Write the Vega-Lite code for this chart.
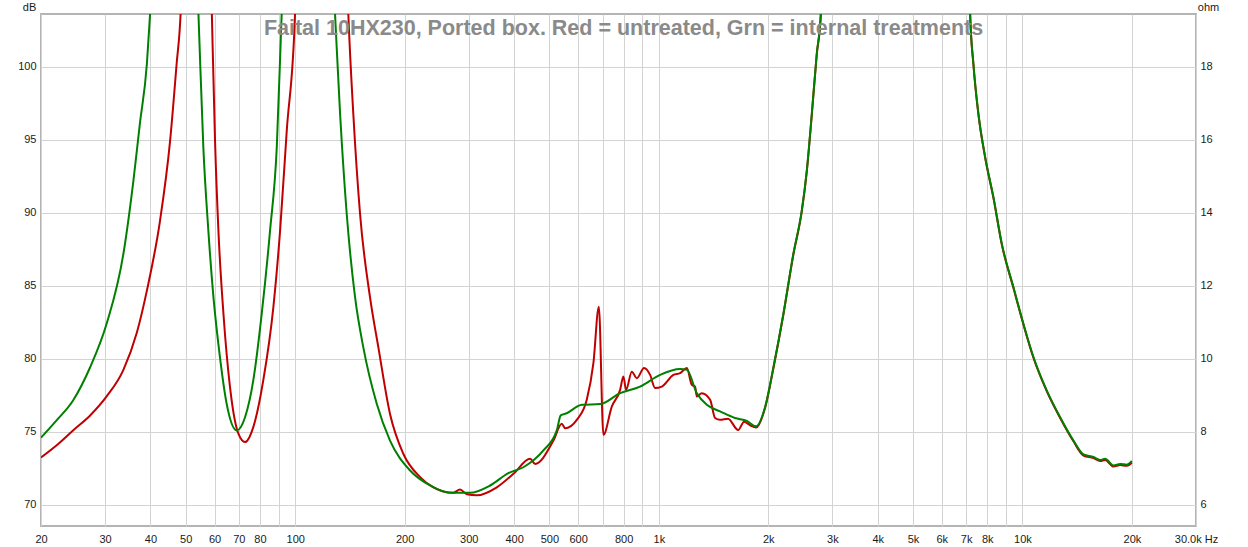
{
  "$schema": "https://vega.github.io/schema/vega-lite/v6.json",
  "autosize": {"type": "none"},
  "width": 1155,
  "height": 512,
  "padding": {"left": 41, "top": 14, "right": 52, "bottom": 21},
  "background": "white",
  "config": {
    "view": {"stroke": "#b4b4b4", "strokeWidth": 2},
    "font": "Liberation Sans"
  },
  "title": {
    "text": "Faital 10HX230, Ported box. Red = untreated, Grn = internal treatments",
    "font": "Liberation Sans",
    "fontSize": 21.5,
    "fontWeight": "bold",
    "color": "#8a8a8a",
    "anchor": "middle",
    "frame": "group",
    "offset": -38,
    "dx": 5
  },
  "datasets": {
    "grid": [{"dB": 70}, {"dB": 75}, {"dB": 80}, {"dB": 85}, {"dB": 90}, {"dB": 95}, {"dB": 100}],
    "imp": [
      {"series": "untreated", "freq": 20, "ohm": 7.30},
      {"series": "untreated", "freq": 22.3, "ohm": 7.67},
      {"series": "untreated", "freq": 24.5, "ohm": 8.04},
      {"series": "untreated", "freq": 27.3, "ohm": 8.45},
      {"series": "untreated", "freq": 30.3, "ohm": 8.97},
      {"series": "untreated", "freq": 33.7, "ohm": 9.70},
      {"series": "untreated", "freq": 36.7, "ohm": 10.72},
      {"series": "untreated", "freq": 39.1, "ohm": 11.87},
      {"series": "untreated", "freq": 42.5, "ohm": 13.79},
      {"series": "untreated", "freq": 45.3, "ohm": 15.98},
      {"series": "untreated", "freq": 47.2, "ohm": 18.08},
      {"series": "untreated", "freq": 48.4, "ohm": 19.45},
      {"series": "untreated", "freq": 48.8, "ohm": 20.38},
      {"series": "untreated", "freq": 53, "ohm": 40},
      {"series": "untreated", "freq": 58.7, "ohm": 20.38},
      {"series": "untreated", "freq": 59.0, "ohm": 19.45},
      {"series": "untreated", "freq": 60.2, "ohm": 15.98},
      {"series": "untreated", "freq": 61.5, "ohm": 13.52},
      {"series": "untreated", "freq": 63.5, "ohm": 11.23},
      {"series": "untreated", "freq": 66.2, "ohm": 9.22},
      {"series": "untreated", "freq": 69.8, "ohm": 7.95},
      {"series": "untreated", "freq": 72.8, "ohm": 7.72},
      {"series": "untreated", "freq": 76.7, "ohm": 8.13},
      {"series": "untreated", "freq": 81.7, "ohm": 9.41},
      {"series": "untreated", "freq": 87.1, "ohm": 11.42},
      {"series": "untreated", "freq": 90.9, "ohm": 13.52},
      {"series": "untreated", "freq": 94.8, "ohm": 16.25},
      {"series": "untreated", "freq": 99.9, "ohm": 19.45},
      {"series": "untreated", "freq": 100.5, "ohm": 20.38},
      {"series": "untreated", "freq": 120, "ohm": 40},
      {"series": "untreated", "freq": 138.9, "ohm": 20.38},
      {"series": "untreated", "freq": 140.0, "ohm": 19.45},
      {"series": "untreated", "freq": 144.5, "ohm": 16.71},
      {"series": "untreated", "freq": 150.8, "ohm": 13.97},
      {"series": "untreated", "freq": 160.6, "ohm": 11.69},
      {"series": "untreated", "freq": 169.3, "ohm": 10.32},
      {"series": "untreated", "freq": 182.3, "ohm": 8.49},
      {"series": "untreated", "freq": 198.3, "ohm": 7.40},
      {"series": "untreated", "freq": 220.6, "ohm": 6.76},
      {"series": "untreated", "freq": 239.8, "ohm": 6.48},
      {"series": "untreated", "freq": 272.2, "ohm": 6.33},
      {"series": "untreated", "freq": 284, "ohm": 6.42},
      {"series": "untreated", "freq": 296.5, "ohm": 6.29},
      {"series": "untreated", "freq": 315.8, "ohm": 6.26},
      {"series": "untreated", "freq": 358.4, "ohm": 6.48},
      {"series": "untreated", "freq": 398.2, "ohm": 6.85},
      {"series": "untreated", "freq": 442.6, "ohm": 7.26},
      {"series": "untreated", "freq": 456.9, "ohm": 7.12},
      {"series": "untreated", "freq": 512.9, "ohm": 7.76},
      {"series": "untreated", "freq": 540.8, "ohm": 8.22},
      {"series": "untreated", "freq": 552.3, "ohm": 8.10},
      {"series": "untreated", "freq": 594.8, "ohm": 8.33},
      {"series": "untreated", "freq": 633.6, "ohm": 8.88},
      {"series": "untreated", "freq": 660.8, "ohm": 9.88},
      {"series": "untreated", "freq": 683.9, "ohm": 11.43},
      {"series": "untreated", "freq": 704.1, "ohm": 7.92},
      {"series": "untreated", "freq": 742.4, "ohm": 8.69},
      {"series": "untreated", "freq": 782.6, "ohm": 9.15},
      {"series": "untreated", "freq": 799, "ohm": 9.52},
      {"series": "untreated", "freq": 812.7, "ohm": 9.15},
      {"series": "untreated", "freq": 842.7, "ohm": 9.65},
      {"series": "untreated", "freq": 869.7, "ohm": 9.47},
      {"series": "untreated", "freq": 910.8, "ohm": 9.75},
      {"series": "untreated", "freq": 946.2, "ohm": 9.56},
      {"series": "untreated", "freq": 976.6, "ohm": 9.20},
      {"series": "untreated", "freq": 1018.8, "ohm": 9.24},
      {"series": "untreated", "freq": 1096.6, "ohm": 9.56},
      {"series": "untreated", "freq": 1144, "ohm": 9.61},
      {"series": "untreated", "freq": 1194, "ohm": 9.75},
      {"series": "untreated", "freq": 1232, "ohm": 9.29},
      {"series": "untreated", "freq": 1258, "ohm": 9.24},
      {"series": "untreated", "freq": 1272, "ohm": 8.97},
      {"series": "untreated", "freq": 1312.6, "ohm": 9.06},
      {"series": "untreated", "freq": 1383.6, "ohm": 8.88},
      {"series": "untreated", "freq": 1428, "ohm": 8.38},
      {"series": "untreated", "freq": 1474, "ohm": 8.33},
      {"series": "untreated", "freq": 1550, "ohm": 8.36},
      {"series": "untreated", "freq": 1652, "ohm": 8.05},
      {"series": "untreated", "freq": 1716, "ohm": 8.28},
      {"series": "untreated", "freq": 1783, "ohm": 8.18},
      {"series": "untreated", "freq": 1851, "ohm": 8.12},
      {"series": "untreated", "freq": 1960, "ohm": 8.66},
      {"series": "untreated", "freq": 2066, "ohm": 9.75},
      {"series": "untreated", "freq": 2200, "ohm": 11.21},
      {"series": "untreated", "freq": 2344, "ohm": 12.86},
      {"series": "untreated", "freq": 2472, "ohm": 14.04},
      {"series": "untreated", "freq": 2552, "ohm": 15.14},
      {"series": "untreated", "freq": 2634, "ohm": 16.69},
      {"series": "untreated", "freq": 2718, "ohm": 18.34},
      {"series": "untreated", "freq": 2790, "ohm": 19.45},
      {"series": "untreated", "freq": 2814, "ohm": 20.38},
      {"series": "untreated", "freq": 4500, "ohm": 40},
      {"series": "untreated", "freq": 7134, "ohm": 20.38},
      {"series": "untreated", "freq": 7178, "ohm": 19.45},
      {"series": "untreated", "freq": 7330, "ohm": 18.06},
      {"series": "untreated", "freq": 7566, "ohm": 16.69},
      {"series": "untreated", "freq": 7896, "ohm": 15.51},
      {"series": "untreated", "freq": 8320, "ohm": 14.41},
      {"series": "untreated", "freq": 8774, "ohm": 13.13},
      {"series": "untreated", "freq": 9444, "ohm": 11.94},
      {"series": "untreated", "freq": 10060, "ohm": 10.94},
      {"series": "untreated", "freq": 10718, "ohm": 10.03},
      {"series": "untreated", "freq": 11666, "ohm": 9.11},
      {"series": "untreated", "freq": 12694, "ohm": 8.38},
      {"series": "untreated", "freq": 13810, "ohm": 7.74},
      {"series": "untreated", "freq": 14714, "ohm": 7.35},
      {"series": "untreated", "freq": 15676, "ohm": 7.28},
      {"series": "untreated", "freq": 16352, "ohm": 7.20},
      {"series": "untreated", "freq": 16880, "ohm": 7.23},
      {"series": "untreated", "freq": 17790, "ohm": 7.05},
      {"series": "untreated", "freq": 18562, "ohm": 7.09},
      {"series": "untreated", "freq": 19364, "ohm": 7.07},
      {"series": "untreated", "freq": 19986, "ohm": 7.15},
      {"series": "treated", "freq": 20, "ohm": 7.84},
      {"series": "treated", "freq": 22.1, "ohm": 8.32},
      {"series": "treated", "freq": 24.5, "ohm": 8.86},
      {"series": "treated", "freq": 27.3, "ohm": 9.77},
      {"series": "treated", "freq": 30.3, "ohm": 10.96},
      {"series": "treated", "freq": 33.7, "ohm": 12.88},
      {"series": "treated", "freq": 35.9, "ohm": 14.88},
      {"series": "treated", "freq": 37.4, "ohm": 16.44},
      {"series": "treated", "freq": 39.1, "ohm": 18.08},
      {"series": "treated", "freq": 39.9, "ohm": 19.45},
      {"series": "treated", "freq": 40.4, "ohm": 20.38},
      {"series": "treated", "freq": 46, "ohm": 40},
      {"series": "treated", "freq": 53.8, "ohm": 20.3},
      {"series": "treated", "freq": 54.2, "ohm": 19.45},
      {"series": "treated", "freq": 55.9, "ohm": 15.80},
      {"series": "treated", "freq": 57.7, "ohm": 13.52},
      {"series": "treated", "freq": 59.6, "ohm": 11.69},
      {"series": "treated", "freq": 62.1, "ohm": 10.05},
      {"series": "treated", "freq": 64.8, "ohm": 8.77},
      {"series": "treated", "freq": 69.1, "ohm": 8.04},
      {"series": "treated", "freq": 72.8, "ohm": 8.40},
      {"series": "treated", "freq": 76.7, "ohm": 9.41},
      {"series": "treated", "freq": 80.9, "ohm": 11.23},
      {"series": "treated", "freq": 85.3, "ohm": 13.52},
      {"series": "treated", "freq": 89.0, "ohm": 15.80},
      {"series": "treated", "freq": 91.8, "ohm": 19.45},
      {"series": "treated", "freq": 92.6, "ohm": 20.41},
      {"series": "treated", "freq": 110, "ohm": 40},
      {"series": "treated", "freq": 127.3, "ohm": 20.38},
      {"series": "treated", "freq": 128.7, "ohm": 19.45},
      {"series": "treated", "freq": 132.9, "ohm": 16.71},
      {"series": "treated", "freq": 138.6, "ohm": 13.97},
      {"series": "treated", "freq": 146.1, "ohm": 11.69},
      {"series": "treated", "freq": 153.9, "ohm": 10.32},
      {"series": "treated", "freq": 167.6, "ohm": 8.77},
      {"series": "treated", "freq": 182.3, "ohm": 7.76},
      {"series": "treated", "freq": 207, "ohm": 6.94},
      {"series": "treated", "freq": 235, "ohm": 6.53},
      {"series": "treated", "freq": 266.7, "ohm": 6.33},
      {"series": "treated", "freq": 302.6, "ohm": 6.33},
      {"series": "treated", "freq": 343.6, "ohm": 6.53},
      {"series": "treated", "freq": 385.6, "ohm": 6.87},
      {"series": "treated", "freq": 424.2, "ohm": 7.03},
      {"series": "treated", "freq": 481.4, "ohm": 7.49},
      {"series": "treated", "freq": 524, "ohm": 8.04},
      {"series": "treated", "freq": 537.4, "ohm": 8.45},
      {"series": "treated", "freq": 558, "ohm": 8.51},
      {"series": "treated", "freq": 614, "ohm": 8.74},
      {"series": "treated", "freq": 689, "ohm": 8.76},
      {"series": "treated", "freq": 782.6, "ohm": 9.06},
      {"series": "treated", "freq": 888, "ohm": 9.24},
      {"series": "treated", "freq": 1008, "ohm": 9.56},
      {"series": "treated", "freq": 1144, "ohm": 9.72},
      {"series": "treated", "freq": 1194, "ohm": 9.70},
      {"series": "treated", "freq": 1272, "ohm": 9.06},
      {"series": "treated", "freq": 1355, "ohm": 8.74},
      {"series": "treated", "freq": 1474, "ohm": 8.56},
      {"series": "treated", "freq": 1620, "ohm": 8.38},
      {"series": "treated", "freq": 1746, "ohm": 8.30},
      {"series": "treated", "freq": 1851, "ohm": 8.15},
      {"series": "treated", "freq": 1960, "ohm": 8.68},
      {"series": "treated", "freq": 2066, "ohm": 9.77},
      {"series": "treated", "freq": 2200, "ohm": 11.23},
      {"series": "treated", "freq": 2344, "ohm": 12.88},
      {"series": "treated", "freq": 2472, "ohm": 14.06},
      {"series": "treated", "freq": 2552, "ohm": 15.16},
      {"series": "treated", "freq": 2634, "ohm": 16.71},
      {"series": "treated", "freq": 2718, "ohm": 18.36},
      {"series": "treated", "freq": 2788, "ohm": 19.45},
      {"series": "treated", "freq": 2812, "ohm": 20.38},
      {"series": "treated", "freq": 4500, "ohm": 40},
      {"series": "treated", "freq": 7134, "ohm": 20.38},
      {"series": "treated", "freq": 7178, "ohm": 19.45},
      {"series": "treated", "freq": 7330, "ohm": 18.08},
      {"series": "treated", "freq": 7566, "ohm": 16.71},
      {"series": "treated", "freq": 7896, "ohm": 15.53},
      {"series": "treated", "freq": 8320, "ohm": 14.43},
      {"series": "treated", "freq": 8774, "ohm": 13.15},
      {"series": "treated", "freq": 9444, "ohm": 11.96},
      {"series": "treated", "freq": 10060, "ohm": 10.96},
      {"series": "treated", "freq": 10718, "ohm": 10.05},
      {"series": "treated", "freq": 11666, "ohm": 9.13},
      {"series": "treated", "freq": 12694, "ohm": 8.40},
      {"series": "treated", "freq": 13810, "ohm": 7.76},
      {"series": "treated", "freq": 14714, "ohm": 7.38},
      {"series": "treated", "freq": 15676, "ohm": 7.31},
      {"series": "treated", "freq": 16352, "ohm": 7.23},
      {"series": "treated", "freq": 16880, "ohm": 7.26},
      {"series": "treated", "freq": 17790, "ohm": 7.08},
      {"series": "treated", "freq": 18562, "ohm": 7.12},
      {"series": "treated", "freq": 19364, "ohm": 7.10},
      {"series": "treated", "freq": 19986, "ohm": 7.20}
    ]
  },
  "layer": [
    {
      "data": {"name": "grid"},
      "mark": {"type": "rule", "strokeOpacity": 0},
      "encoding": {
        "y": {
          "field": "dB",
          "type": "quantitative",
          "scale": {"domain": [68.56, 103.63], "nice": false, "zero": false},
          "axis": {
            "orient": "left",
            "values": [70, 75, 80, 85, 90, 95, 100],
            "grid": true,
            "gridColor": "#d3d3d3",
            "gridWidth": 1,
            "ticks": false,
            "domain": false,
            "labelPadding": 5,
            "labelFont": "Liberation Sans",
            "labelFontSize": 11,
            "labelColor": "#1a1a1a",
            "title": "dB",
            "titleAngle": 0,
            "titleX": -12,
            "titleY": -4,
            "titleAlign": "center",
            "titleBaseline": "alphabetic",
            "titleFont": "Liberation Sans",
            "titleFontSize": 11,
            "titleFontWeight": "normal",
            "titleColor": "#1a1a1a"
          }
        }
      }
    },
    {
      "data": {"name": "imp"},
      "encoding": {
        "x": {
          "field": "freq",
          "type": "quantitative",
          "scale": {"type": "log", "domain": [20, 30000], "nice": false},
          "axis": {
            "values": [20, 30, 40, 50, 60, 70, 80, 90, 100, 200, 300, 400, 500, 600, 700, 800, 900, 1000, 2000, 3000, 4000, 5000, 6000, 7000, 8000, 9000, 10000, 20000, 30000],
            "labelExpr": "datum.value == 90 || datum.value == 700 || datum.value == 900 || datum.value == 9000 ? '' : datum.value == 30000 ? '30.0k Hz' : datum.value >= 1000 ? (datum.value / 1000) + 'k' : '' + datum.value",
            "grid": true,
            "gridColor": "#d3d3d3",
            "gridWidth": 1,
            "ticks": false,
            "domain": false,
            "labelOverlap": false,
            "labelFlush": false,
            "labelPadding": 7,
            "labelFont": "Liberation Sans",
            "labelFontSize": 11,
            "labelColor": "#1a1a1a",
            "title": null
          }
        },
        "y": {
          "field": "ohm",
          "type": "quantitative",
          "scale": {"domain": [5.42, 19.45], "nice": false, "zero": false},
          "axis": {
            "orient": "right",
            "values": [6, 8, 10, 12, 14, 16, 18],
            "grid": false,
            "ticks": false,
            "domain": false,
            "labelPadding": 4,
            "labelFont": "Liberation Sans",
            "labelFontSize": 11,
            "labelColor": "#1a1a1a",
            "title": "ohm",
            "titleAngle": 0,
            "titleX": 12,
            "titleY": -4,
            "titleAlign": "center",
            "titleBaseline": "alphabetic",
            "titleFont": "Liberation Sans",
            "titleFontSize": 11,
            "titleFontWeight": "normal",
            "titleColor": "#1a1a1a"
          }
        }
      },
      "layer": [
        {
          "transform": [{"filter": "datum.series === 'untreated'"}],
          "mark": {"type": "line", "clip": true, "color": "#c00000", "strokeWidth": 2, "interpolate": "monotone"}
        },
        {
          "transform": [{"filter": "datum.series === 'treated'"}],
          "mark": {"type": "line", "clip": true, "color": "#008000", "strokeWidth": 2, "interpolate": "monotone"}
        }
      ]
    }
  ],
  "resolve": {"scale": {"y": "independent"}, "axis": {"y": "independent"}}
}
